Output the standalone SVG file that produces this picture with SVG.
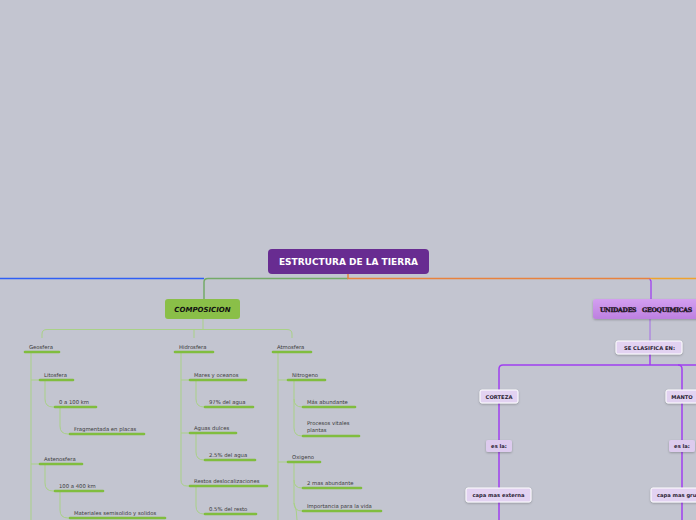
<svg xmlns="http://www.w3.org/2000/svg" width="696" height="520" viewBox="0 0 696 520">
<defs>
<linearGradient id="gu" x1="0" y1="0" x2="0" y2="1"><stop offset="0" stop-color="#d39ff0"/><stop offset="1" stop-color="#bd80e0"/></linearGradient>
<filter id="sh" x="-20%" y="-30%" width="140%" height="170%"><feDropShadow dx="0" dy="1" stdDeviation="0.8" flood-color="#000" flood-opacity="0.25"/></filter>
<style>
.t{font-family:"DejaVu Sans",Verdana,sans-serif;font-size:5.3px;fill:#3a3a3a}
.ul{stroke:#80bd3e;stroke-width:2.6;stroke-linecap:round;fill:none}
.lc{stroke:#a9d187;stroke-width:1;fill:none}
.pl{stroke:#a03ff0;stroke-width:1.5;fill:none}
.pn{fill:#e2d2f1;stroke:#ffffff;stroke-width:1;filter:url(#sh)}
.ps{fill:#ddcbee;filter:url(#sh)}
.pt{font-family:"DejaVu Sans",Verdana,sans-serif;font-size:5.2px;font-weight:bold;fill:#2a2233;text-anchor:middle}
</style>
</defs>
<rect width="696" height="520" fill="#c3c5d0"/>

<g id="connectors">
<path d="M0,278.5 H204" stroke="#2f5ff5" stroke-width="1.5" fill="none"/>
<path d="M348,278.5 H208 Q204,278.5 204,282 V299" stroke="#74aa68" stroke-width="1.5" fill="none"/>
<path d="M348,274 V278.5 H650" stroke="#e8823e" stroke-width="1.5" fill="none"/>
<path d="M650,278.5 H696" stroke="#f0a22e" stroke-width="1.5" fill="none"/>
<path d="M650,279 Q650,280 651,281 V299" stroke="#a040f0" stroke-width="1.3" fill="none"/>
<path d="M203,319 V329.5" class="lc"/>
<path d="M42,338 V334 Q42,329.5 47,329.5 H287 Q292,329.5 292,334 V338" class="lc"/>
<path d="M194,329.5 V338" class="lc"/>
<path d="M31,353 V520" class="lc"/>
<path d="M31,380 H40 M31,464 H40" class="lc"/>
<path d="M45,381 V399 Q45,407 53,407 H55" class="lc"/>
<path d="M60,408 V426 Q60,434 68,434 H70" class="lc"/>
<path d="M45,465 V483 Q45,491 53,491 H55" class="lc"/>
<path d="M60,492 V510 Q60,518 68,518 H70" class="lc"/>
<path d="M181,353 V480 Q181,486 187,486 H190" class="lc"/>
<path d="M181,380 H190 M181,433 H190" class="lc"/>
<path d="M196,381 V399 Q196,407 204,407 H205" class="lc"/>
<path d="M196,434 V452 Q196,460 204,460 H205" class="lc"/>
<path d="M196,487 V506 Q196,514 204,514 H205" class="lc"/>
<path d="M278,353 V520" class="lc"/>
<path d="M278,380 H288 M278,462 H288" class="lc"/>
<path d="M294,381 V399 Q294,407 302,407 H303" class="lc"/>
<path d="M294,399 V428 Q294,436 302,436 H303" class="lc"/>
<path d="M294,463 V480 Q294,488 302,488 H303" class="lc"/>
<path d="M294,480 V503 Q294,511 302,511 H303" class="lc"/>
<path d="M294,503 Q297,510 297,520" class="lc"/>
<path d="M650,319 V341" stroke="#a66ee6" stroke-width="1" fill="none"/>
<path d="M650,354 V365" class="pl"/>
<path d="M499,520 V369 Q499,365 503,365 H696" class="pl"/>
<path d="M678,365 Q682,365 682,369 V520" class="pl"/>
</g>

<g id="n-root">
<rect x="268" y="249" width="161" height="25" rx="4" fill="#682c91"/>
<text x="348.5" y="265" text-anchor="middle" font-family="'DejaVu Sans',Verdana,sans-serif" font-size="9" font-weight="bold" fill="#ffffff">ESTRUCTURA DE LA TIERRA</text>
</g>

<g id="n-composicion">
<rect x="165" y="299" width="75" height="20" rx="3" fill="#8abf48"/>
<text x="202.5" y="312" text-anchor="middle" font-family="'DejaVu Sans',Verdana,sans-serif" font-size="7" font-weight="bold" font-style="italic" fill="#111">COMPOSICION</text>
</g>

<g id="n-geosfera"><text class="t" x="29" y="349">Geosfera</text><path class="ul" d="M25,352 H59"/></g>
<g id="n-litosfera"><text class="t" x="44" y="377">Litosfera</text><path class="ul" d="M40,380 H73"/></g>
<g id="n-0a100"><text class="t" x="59" y="404">0 a 100 km</text><path class="ul" d="M55,407 H96"/></g>
<g id="n-fragmentada"><text class="t" x="74" y="431">Fragmentada en placas</text><path class="ul" d="M70,434 H144"/></g>
<g id="n-astenosfera"><text class="t" x="44" y="461">Astenosfera</text><path class="ul" d="M40,464 H82"/></g>
<g id="n-100a400"><text class="t" x="59" y="488">100 a 400 km</text><path class="ul" d="M55,491 H103"/></g>
<g id="n-materiales"><text class="t" x="74" y="515">Materiales semisolido y solidos</text><path class="ul" d="M70,518 H165"/></g>

<g id="n-hidrosfera"><text class="t" x="179" y="349">Hidrosfera</text><path class="ul" d="M175,352 H213"/></g>
<g id="n-mares"><text class="t" x="194" y="377">Mares y oceanos</text><path class="ul" d="M190,380 H246"/></g>
<g id="n-97"><text class="t" x="209" y="404">97% del agua</text><path class="ul" d="M205,407 H253"/></g>
<g id="n-aguas"><text class="t" x="194" y="430">Aguas dulces</text><path class="ul" d="M190,433 H236"/></g>
<g id="n-25"><text class="t" x="209" y="457">2.5% del agua</text><path class="ul" d="M205,460 H255"/></g>
<g id="n-restos"><text class="t" x="194" y="483">Restos deslocalizaciones</text><path class="ul" d="M190,486 H267"/></g>
<g id="n-05"><text class="t" x="209" y="511">0.5% del resto</text><path class="ul" d="M205,514 H256"/></g>

<g id="n-atmosfera"><text class="t" x="277" y="349">Atmosfera</text><path class="ul" d="M273,352 H311"/></g>
<g id="n-nitrogeno"><text class="t" x="292" y="377">Nitrogeno</text><path class="ul" d="M288,380 H325"/></g>
<g id="n-mas-abundante"><text class="t" x="307" y="404">Más abundante</text><path class="ul" d="M303,407 H355"/></g>
<g id="n-procesos"><text class="t" x="307" y="425">Procesos vitales</text><text class="t" x="307" y="431.5">plantas</text><path class="ul" d="M303,436 H359"/></g>
<g id="n-oxigeno"><text class="t" x="292" y="459">Oxigeno</text><path class="ul" d="M288,462 H320"/></g>
<g id="n-2mas"><text class="t" x="307" y="485">2 mas abundante</text><path class="ul" d="M303,488 H361"/></g>
<g id="n-importancia"><text class="t" x="307" y="508">Importancia para la vida</text><path class="ul" d="M303,511 H381"/></g>

<g id="n-unidades">
<rect x="593" y="299" width="125" height="20" rx="3" fill="url(#gu)" filter="url(#sh)"/>
<text x="600" y="312" font-family="'DejaVu Serif',serif" font-size="6.2" font-weight="bold" fill="#1e1424" stroke="#1e1424" stroke-width="0.35" letter-spacing="-0.3" word-spacing="4">UNIDADES GEOQUIMICAS</text>
</g>
<g id="n-clasifica"><rect class="pn" x="616" y="341" width="66" height="13" rx="2"/><text class="pt" x="649.5" y="349.8">SE CLASIFICA EN:</text></g>
<g id="n-corteza"><rect class="pn" x="480" y="390" width="38" height="13" rx="2"/><text class="pt" x="499" y="398.8">CORTEZA</text></g>
<g id="n-esla1"><rect class="ps" x="486" y="440" width="26" height="12" rx="2"/><text class="pt" x="499" y="448">es la:</text></g>
<g id="n-externa"><rect class="pn" x="466" y="488" width="65" height="14" rx="2"/><text class="pt" x="498.5" y="497">capa mas externa</text></g>
<g id="n-manto"><rect class="pn" x="666" y="390" width="32" height="13" rx="2"/><text class="pt" x="682" y="398.8">MANTO</text></g>
<g id="n-esla2"><rect class="ps" x="669" y="440" width="26" height="12" rx="2"/><text class="pt" x="682" y="448">es la:</text></g>
<g id="n-gruesa"><rect class="pn" x="651" y="488" width="70" height="14" rx="2"/><text class="pt" x="657" y="497" style="text-anchor:start">capa mas gruesa</text></g>
</svg>
